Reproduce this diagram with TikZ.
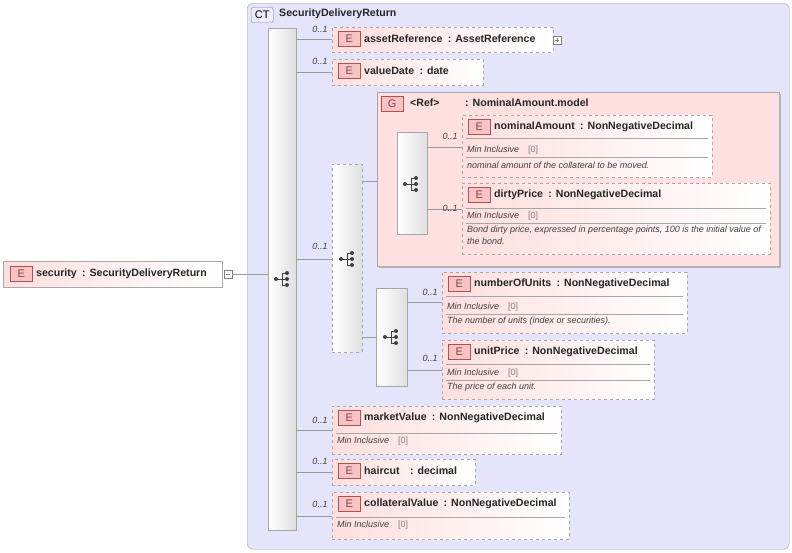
\documentclass[tikz,border=0pt]{standalone}
\usepackage{fontspec}
\setmainfont{Liberation Sans}
\usetikzlibrary{positioning}
\definecolor{ctfill}{HTML}{E4E4FA}
\definecolor{ctline}{HTML}{A0A0B8}
\definecolor{pinkf}{HTML}{FFDEDE}
\definecolor{badgef}{HTML}{F6C4C4}
\definecolor{badgel}{HTML}{B05050}
\definecolor{dline}{HTML}{A8A8A8}
\definecolor{grp}{HTML}{FFE0E0}
\tikzset{
 box/.style={draw=dline,dashed,left color=pinkf,right color=white,inner sep=0pt},
 sbox/.style={draw=dline,left color=pinkf,right color=white,inner sep=0pt},
 bar/.style={draw=gray!70,left color=white,right color=gray!25,inner sep=0pt},
 badge/.style={draw=badgel,fill=badgef,inner sep=0pt,minimum width=22pt,minimum height=15pt,font=\fontsize{11}{11}\selectfont,text=badgel!80!black},
 nm/.style={font=\bfseries\fontsize{10.6}{12}\selectfont,anchor=west,text=black!85,inner sep=0pt},
 small/.style={font=\itshape\fontsize{9}{10}\selectfont,anchor=west,text=black!75,inner sep=0pt},
 occ/.style={font=\itshape\fontsize{9}{10}\selectfont,text=black!75,inner sep=0pt},
 conn/.style={draw=gray!80,line width=0.6pt},
 sep/.style={draw=gray!70,line width=0.6pt}
}
\newcommand{\seqicon}[2]{%
 \fill[black!75] (#1-6,#2) circle (2);
 \draw[black!75,line width=0.9pt] (#1-6,#2)--(#1,#2) (#1,#2-6)--(#1,#2+6) (#1,#2-6)--(#1+5,#2-6) (#1,#2)--(#1+5,#2) (#1,#2+6)--(#1+5,#2+6);
 \fill[black!75] (#1+5,#2-6) circle (2) (#1+5,#2) circle (2) (#1+5,#2+6) circle (2);}
\newcommand{\el}[6]{% name x1 y1 x2 y2 label
 \node[box,minimum width=#4-#2,minimum height=#5-#3,anchor=north west] (#1) at (#2,#3) {};
 \node[badge,anchor=west] (#1b) at (#2+6,#3+12) {E};
 \node[nm] (#1t) at (#2+32,#3+12) {#6};}
\begin{document}
\begin{tikzpicture}[x=1pt,y=-1pt]
\useasboundingbox (0,0) rectangle (792,552);
% CT
\node[draw=ctline,fill=ctfill,rounded corners=6pt,minimum width=542,minimum height=546,anchor=north west,inner sep=0pt] (ct) at (247,3) {};
\node[draw=ctline!80!black,fill=ctfill!70!blue!20,rounded corners=2pt,inner sep=0pt,minimum width=22,minimum height=15,font=\fontsize{11}{11}\selectfont,anchor=west] (ctb) at (251,15) {CT};
\node[nm] (ctt) at (279,14) {SecurityDeliveryReturn};
% security
\node[sbox,minimum width=219,minimum height=26,anchor=north west] (sec) at (3,261) {};
\node[badge,anchor=west] (secb) at (10,274) {E};
\node[nm] (sect) at (36,274) {security\enspace : SecurityDeliveryReturn};
\node[draw=gray,fill=white,minimum size=8,inner sep=0pt,anchor=west] (secm) at (224,274) {};
\draw[gray] (226,274)--(230,274);
% main sequence
\node[bar,minimum width=28,minimum height=502,anchor=north west] (seq) at (268,28) {};
\seqicon{282}{279}
\draw[conn] (secm.east)--(seq.west |- secm.east);
% asset
\el{ar}{332}{27}{553}{52}{assetReference\enspace: AssetReference}
\node[draw=gray,fill=white,minimum size=8,inner sep=0pt,anchor=west] (arp) at (553,40) {};
\draw[gray] (555,40)--(559,40) (557,38)--(557,42);
\draw[conn] (seq.east |- ar.west)--(ar.west);
\node[occ] at (320,29) {0..1};
% valueDate
\el{vd}{332}{59}{483}{85}{valueDate\enspace: date}
\draw[conn] (seq.east |- vd.west)--(vd.west);
\node[occ] at (320,61) {0..1};
% choice
\node[bar,dashed,minimum width=30,minimum height=188,anchor=north west] (ch) at (332,164) {};
\seqicon{347}{259}
\draw[conn] (seq.east |- 0,259) coordinate (c1)--(ch.west |- c1);
\node[occ] at (320,246) {0..1};
% group
\node[draw=gray!70,fill=grp,minimum width=402,minimum height=174,anchor=north west,inner sep=0pt] (g) at (377,92) {};
\draw[gray!60,line width=1.2pt] (379,267)--(780,267)--(780,94);
\node[badge,anchor=west] (gb) at (381,104) {G};
\node[nm] (gt1) at (410,103) {<Ref>};
\node[nm] (gt2) at (465,103) {: NominalAmount.model};
\draw[conn] (ch.east |- 0,181) coordinate (c2)--(g.west |- c2);
\node[bar,minimum width=30,minimum height=102,anchor=north west] (s1) at (397,132) {};
\seqicon{411}{184}
% nominalAmount
\el{na}{462}{115}{712}{177}{nominalAmount\enspace: NonNegativeDecimal}
\draw[sep] (466,138)--(708,138) (466,157)--(708,157);
\node[small] at (467,150) {Min Inclusive\quad{\upshape\color{gray}[0]}};
\node[small] at (467,165) {nominal amount of the collateral to be moved.};
\draw[conn] (s1.east |- 0,147) coordinate (c3)--(na.west |- c3);
\node[occ] at (450,136) {0..1};
% dirtyPrice
\el{dp}{462}{183}{770}{254}{dirtyPrice\enspace: NonNegativeDecimal}
\draw[sep] (466,208)--(766,208) (466,223)--(766,223);
\node[small] at (467,216) {Min Inclusive\quad{\upshape\color{gray}[0]}};
\node[small] at (467,230) {Bond dirty price, expressed in percentage points, 100 is the initial value of};
\node[small] at (467,241) {the bond.};
\draw[conn] (s1.east |- 0,209) coordinate (c4)--(dp.west |- c4);
\node[occ] at (450,208) {0..1};
% seq2
\node[bar,minimum width=31,minimum height=98,anchor=north west] (s2) at (376,288) {};
\seqicon{391}{337}
\draw[conn] (ch.east |- 0,337) coordinate (c5)--(s2.west |- c5);
\el{nu}{442}{272}{687}{333}{numberOfUnits\enspace: NonNegativeDecimal}
\draw[sep] (446,296)--(683,296) (446,314)--(683,314);
\node[small] at (447,307) {Min Inclusive\quad{\upshape\color{gray}[0]}};
\node[small] at (447,321) {The number of units (index or securities).};
\draw[conn] (s2.east |- 0,302) coordinate (c6)--(nu.west |- c6);
\node[occ] at (430,292) {0..1};
\el{up}{442}{340}{654}{399}{unitPrice\enspace: NonNegativeDecimal}
\draw[sep] (446,364)--(650,364) (446,380)--(650,380);
\node[small] at (447,373) {Min Inclusive\quad{\upshape\color{gray}[0]}};
\node[small] at (447,387) {The price of each unit.};
\draw[conn] (s2.east |- 0,370) coordinate (c7)--(up.west |- c7);
\node[occ] at (430,358) {0..1};
% marketValue
\el{mv}{332}{406}{561}{454}{marketValue\enspace: NonNegativeDecimal}
\draw[sep] (336,433)--(557,433);
\node[small] at (337,441) {Min Inclusive\quad{\upshape\color{gray}[0]}};
\draw[conn] (seq.east |- 0,430) coordinate (c8)--(mv.west |- c8);
\node[occ] at (320,420) {0..1};
% haircut
\el{hc}{332}{459}{475}{485}{haircut\quad: decimal}
\draw[conn] (seq.east |- hc.west)--(hc.west);
\node[occ] at (320,461) {0..1};
% collateralValue
\el{cv}{332}{492}{569}{539}{collateralValue\enspace: NonNegativeDecimal}
\draw[sep] (336,517)--(565,517);
\node[small] at (337,525) {Min Inclusive\quad{\upshape\color{gray}[0]}};
\draw[conn] (seq.east |- 0,516) coordinate (c9)--(cv.west |- c9);
\node[occ] at (320,504) {0..1};
\end{tikzpicture}
\end{document}
